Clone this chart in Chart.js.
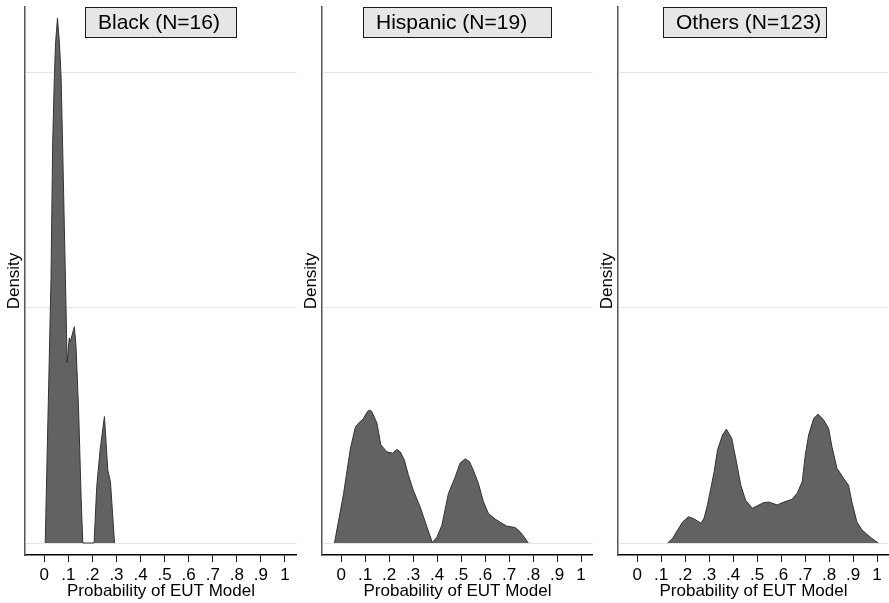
<!DOCTYPE html>
<html>
<head>
<meta charset="utf-8">
<script src="https://cdn.jsdelivr.net/npm/chart.js@4/dist/chart.umd.min.js"></script>
<style>
  html, body { margin: 0; padding: 0; background: #fff; }
  #wrap { position: relative; width: 889px; height: 603px; }
  .panel { position: absolute; top: 0; height: 603px; }
</style>
</head>
<body>
<div id="wrap">
  <div class="panel" style="left:0px;width:297px"><canvas id="c0" width="297" height="603"></canvas></div>
  <div class="panel" style="left:297px;width:296px"><canvas id="c1" width="296" height="603"></canvas></div>
  <div class="panel" style="left:593px;width:296px"><canvas id="c2" width="296" height="603"></canvas></div>
</div>
<script>
// ---- data ----
const panelTitles = ['Black (N=16)', 'Hispanic (N=19)', 'Others (N=123)'];
const xTicks = [0, 0.1, 0.2, 0.3, 0.4, 0.5, 0.6, 0.7, 0.8, 0.9, 1];
const xTickLabels = ['0', '.1', '.2', '.3', '.4', '.5', '.6', '.7', '.8', '.9', '1'];
const yTicks = [0, 5, 10];

const blackX = [0.004, 0.028, 0.035, 0.042, 0.047, 0.055, 0.063, 0.070, 0.076, 0.088, 0.095, 0.104, 0.108, 0.125, 0.132, 0.143, 0.153, 0.160, 0.207, 0.218, 0.232, 0.250, 0.264, 0.275, 0.292];
const blackD = [0, 5.60, 8.51, 9.91, 10.64, 11.16, 10.64, 9.91, 8.51, 5.60, 3.83, 4.36, 4.28, 4.60, 4.18, 2.77, 0.99, 0, 0, 1.20, 1.98, 2.69, 1.55, 1.30, 0];

const hispX = [-0.028, 0.010, 0.038, 0.058, 0.065, 0.093, 0.110, 0.121, 0.128, 0.149, 0.165, 0.190, 0.215, 0.232, 0.246, 0.263, 0.280, 0.300, 0.329, 0.357, 0.380, 0.399, 0.420, 0.447, 0.475, 0.496, 0.517, 0.535, 0.551, 0.572, 0.593, 0.614, 0.642, 0.670, 0.690, 0.725, 0.746, 0.767, 0.780];
const hispD = [0, 1.05, 2.00, 2.44, 2.51, 2.65, 2.80, 2.83, 2.79, 2.55, 2.09, 1.94, 1.91, 1.99, 1.94, 1.77, 1.45, 1.13, 0.77, 0.35, 0.01, 0.12, 0.38, 1.05, 1.40, 1.70, 1.79, 1.73, 1.55, 1.27, 0.88, 0.63, 0.51, 0.42, 0.36, 0.33, 0.24, 0.10, 0];

const othX = [0.127, 0.148, 0.169, 0.190, 0.214, 0.238, 0.266, 0.279, 0.293, 0.307, 0.321, 0.335, 0.356, 0.372, 0.394, 0.411, 0.432, 0.452, 0.480, 0.500, 0.528, 0.549, 0.584, 0.611, 0.646, 0.667, 0.688, 0.701, 0.715, 0.736, 0.754, 0.777, 0.798, 0.812, 0.833, 0.860, 0.881, 0.895, 0.916, 0.937, 0.957, 0.978, 1.005];
const othD = [0, 0.10, 0.28, 0.45, 0.56, 0.51, 0.42, 0.53, 0.81, 1.16, 1.52, 1.98, 2.30, 2.42, 2.23, 1.80, 1.23, 0.91, 0.74, 0.79, 0.86, 0.87, 0.81, 0.87, 0.93, 1.06, 1.30, 1.87, 2.30, 2.65, 2.74, 2.62, 2.44, 2.05, 1.59, 1.38, 1.23, 0.88, 0.45, 0.28, 0.19, 0.10, 0];

const seriesX = [blackX, hispX, othX];
const seriesD = [blackD, hispD, othD];

// ---- style ----
const FONT = '"Liberation Sans", Arial, Helvetica, sans-serif';
const boxWidths = [152, 189, 164];
const boxLeft = [60, 41, 45];   // offset from the y axis line

// grey title strip on top of each panel
const panelBox = {
  id: 'panelBox',
  afterDraw(chart, args, opts) {
    const {ctx, chartArea} = chart;
    const w = opts.width, h = 31, y = 7;
    const x = Math.round(chartArea.left + opts.left);
    ctx.save();
    ctx.fillStyle = '#e6e6e6';
    ctx.fillRect(x, y, w, h);
    ctx.strokeStyle = '#1a1a1a';
    ctx.lineWidth = 1;
    ctx.strokeRect(x + 0.5, y + 0.5, w - 1, h - 1);
    ctx.fillStyle = '#000';
    ctx.font = '21px ' + FONT;
    ctx.textBaseline = 'middle';
    ctx.textAlign = 'left';
    ctx.fillText(opts.text, x + 13, y + h / 2 + 1);
    ctx.restore();
  }
};

function makePanel(i) {
  const points = seriesX[i].map((x, k) => ({x: x, y: seriesD[i][k]}));
  new Chart(document.getElementById('c' + i), {
    type: 'line',
    data: {
      datasets: [{
        data: points,
        borderColor: '#333333',
        borderWidth: 1,
        backgroundColor: '#626262',
        fill: 'origin',
        pointRadius: 0,
        tension: 0
      }]
    },
    plugins: [panelBox],
    options: {
      responsive: false,
      animation: false,
      devicePixelRatio: 1,
      layout: {padding: {top: 7, left: 0, right: 0, bottom: 0}},
      plugins: {
        legend: {display: false},
        tooltip: {enabled: false},
        panelBox: {text: panelTitles[i], width: boxWidths[i], left: boxLeft[i]}
      },
      scales: {
        x: {
          type: 'linear',
          min: -0.08,
          max: 1.05,
          afterBuildTicks: s => { s.ticks = xTicks.map(v => ({value: v})); },
          afterFit: s => { s.height = 48; },
          grid: {drawOnChartArea: false, drawTicks: true, tickLength: 7, color: '#222', lineWidth: 1},
          border: {display: true, color: '#000', width: 1.5},
          ticks: {
            padding: 3,
            color: '#000',
            font: {family: FONT, size: 17},
            maxRotation: 0,
            autoSkip: false,
            callback: (v) => xTickLabels[xTicks.findIndex(t => Math.abs(t - v) < 1e-6)]
          },
          title: {
            display: true,
            text: 'Probability of EUT Model',
            color: '#000',
            font: {family: FONT, size: 17},
            padding: {top: 0, bottom: 1}
          }
        },
        y: {
          type: 'linear',
          min: -0.255,
          max: 11.4,
          afterBuildTicks: s => { s.ticks = yTicks.map(v => ({value: v})); },
          afterFit: s => { s.width = 25; },
          grid: {drawTicks: false, color: '#e6e6e6', lineWidth: 1},
          border: {display: true, color: '#555', width: 1.5},
          ticks: {display: false},
          title: {
            display: true,
            text: 'Density',
            color: '#000',
            font: {family: FONT, size: 17},
            padding: {top: 4, bottom: 0}
          }
        }
      }
    }
  });
}

[0, 1, 2].forEach(makePanel);
</script>
</body>
</html>
